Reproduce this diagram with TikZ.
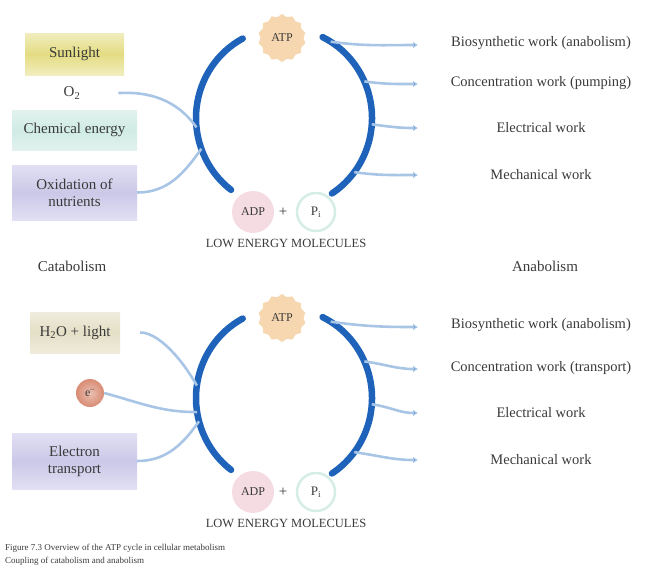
\documentclass[tikz,border=0pt]{standalone}
\usepackage{fontspec}
\setmainfont{Liberation Serif}
\usetikzlibrary{shapes.geometric,arrows.meta}

\definecolor{cycblue}{HTML}{1E63B9}
\definecolor{linkblue}{HTML}{A9C5E6}
\definecolor{tipblue}{HTML}{4A86C8}
\definecolor{txtgrey}{HTML}{3A3A3A}
\definecolor{sunyel}{HTML}{E3DC82}
\definecolor{sunyellt}{HTML}{F1EDBE}
\definecolor{chemgrn}{HTML}{D0EBE5}
\definecolor{chemgrnlt}{HTML}{E2F2EE}
\definecolor{oxpurp}{HTML}{CBC8E8}
\definecolor{oxpurplt}{HTML}{E2E0F3}
\definecolor{lightbg}{HTML}{E4DFC6}
\definecolor{lightbglt}{HTML}{EFECDD}
\definecolor{atporange}{HTML}{F6D7B0}
\definecolor{adppink}{HTML}{F5DCE2}
\definecolor{pigreen}{HTML}{D6EEE6}
\definecolor{redball}{HTML}{D98C74}

\begin{document}
\begin{tikzpicture}[x=1pt,y=1pt,
  cyc/.style={line width=6.5pt, draw=cycblue, line cap=round},
  link/.style={line width=2.6pt, draw=linkblue},
  linktip/.style={link, -{Latex[length=5pt,width=7pt,fill=tipblue]}},
  srcbox/.style={minimum width=125pt, align=center},
  atpstar/.style={star, star points=14, star point ratio=1.12, minimum size=48pt, fill=atporange, font=\fontsize{12}{14}\selectfont},
  adpball/.style={circle, minimum size=42pt, fill=adppink, font=\fontsize{12}{14}\selectfont},
  piball/.style={circle, minimum size=38pt, draw=pigreen, line width=2.5pt, fill=white, font=\fontsize{13}{14}\selectfont},
  worklabel/.style={font=\fontsize{14.5}{16}\selectfont},
  statelabel/.style={font=\fontsize{12.5}{14}\selectfont}]
\useasboundingbox (0,0) rectangle (647,-574);
\tikzstyle{every node}+=[inner sep=0pt, text=txtgrey, font=\fontsize{15}{17}\selectfont]

% upper cycle
\node [srcbox, minimum width=99pt, minimum height=42pt, top color=sunyellt, bottom color=sunyellt, middle color=sunyel] (sun) at (74.5,-54) {Sunlight};
\node (oxy1) at (72,-93) {O\textsubscript{2}};
\node [srcbox, minimum height=40pt, top color=chemgrnlt, bottom color=chemgrnlt, middle color=chemgrn] (chem) at (74.5,-130) {Chemical energy};
\node [srcbox, minimum height=55pt, top color=oxpurplt, bottom color=oxpurplt, middle color=oxpurp] (oxid1) at (74.5,-192.5) {Oxidation of\\nutrients};

\node [atpstar] (atp1) at (282,-38) {ATP};
\node [adpball] (adp1) at (253,-212) {ADP};
\node (plus1) at (283,-212) {+};
\node [piball] (pi1) at (316,-212) {P\textsubscript{i}};
\node [statelabel] (low1) at (286,-243) {LOW ENERGY MOLECULES};

\coordinate (ctr1) at (284,-118);
\draw [cyc] (ctr1) ++(233:88 and 90) arc (233:118:88 and 90);
\draw [cyc] (ctr1) ++(64:88 and 90) arc (64:-57:88 and 90);
\path (ctr1) ++(186:88 and 90) coordinate (in1a);
\path (ctr1) ++(200:88 and 90) coordinate (in1b);

\draw [link, shorten <=38pt] (oxy1.east) to[out=0,in=125] (in1a);
\draw [link] (oxid1.east) to[out=0,in=-125] (in1b);

\node [worklabel] (w1a) at (541,-43) {Biosynthetic work (anabolism)};
\node [worklabel] (w1b) at (541,-83) {Concentration work (pumping)};
\node [worklabel] (w1c) at (541,-128) {Electrical work};
\node [worklabel] (w1d) at (541,-175) {Mechanical work};
\foreach \ang/\yy/\nm in {58/45/a, 24/84/b, -4/128/c, -37/175/d} {
  \path (ctr1) ++(\ang:88 and 90) coordinate (out1\nm);
  \coordinate (end1\nm) at (418,-\yy);
  \draw [linktip] (out1\nm) to[out=-8,in=180] (end1\nm);
}

\node (cata) at (72,-266) {Catabolism};
\node (ana) at (545,-266) {Anabolism};

% lower cycle
\node [srcbox, minimum width=90pt, minimum height=41pt, top color=lightbglt, bottom color=lightbglt, middle color=lightbg] (light) at (75,-332.5) {H\textsubscript{2}O + light};
\node [circle, minimum size=28pt, inner color=redball!55, outer color=redball, font=\fontsize{12}{14}\selectfont] (elec) at (90,-393) {e\textsuperscript{--}};
\node [srcbox, minimum height=56pt, top color=oxpurplt, bottom color=oxpurplt, middle color=oxpurp] (oxid2) at (74.5,-461) {Electron\\transport};

\node [atpstar] (atp2) at (282,-318) {ATP};
\node [adpball] (adp2) at (253,-492) {ADP};
\node (plus2) at (283,-492) {+};
\node [piball] (pi2) at (316,-492) {P\textsubscript{i}};
\node [statelabel] (low2) at (286,-523) {LOW ENERGY MOLECULES};

\coordinate (ctr2) at (284,-398);
\draw [cyc] (ctr2) ++(233:88 and 90) arc (233:118:88 and 90);
\draw [cyc] (ctr2) ++(64:88 and 90) arc (64:-57:88 and 90);
\path (ctr2) ++(172:88 and 90) coordinate (in2a);
\path (ctr2) ++(189:88 and 90) coordinate (in2b);
\path (ctr2) ++(195:88 and 90) coordinate (in2c);

\draw [link, shorten <=20pt] (light.east) to[out=0,in=120] (in2a);
\draw [link] (elec.east) to[out=-15,in=180] (in2b);
\draw [link] (oxid2.east) to[out=0,in=-125] (in2c);

\node [worklabel] (w2a) at (541,-325) {Biosynthetic work (anabolism)};
\node [worklabel] (w2b) at (541,-368) {Concentration work (transport)};
\node [worklabel] (w2c) at (541,-413) {Electrical work};
\node [worklabel] (w2d) at (541,-460) {Mechanical work};
\foreach \ang/\yy/\nm in {58/327/a, 24/369/b, -4/413/c, -37/460/d} {
  \path (ctr2) ++(\ang:88 and 90) coordinate (out2\nm);
  \coordinate (end2\nm) at (418,-\yy);
  \draw [linktip] (out2\nm) to[out=-8,in=180] (end2\nm);
}

% caption
\node [anchor=west, font=\fontsize{9}{10}\selectfont] (cap1) at (5,-548) {Figure 7.3 Overview of the ATP cycle in cellular metabolism};
\node [anchor=west, font=\fontsize{9}{10}\selectfont] (cap2) at (5,-561) {Coupling of catabolism and anabolism};
\end{tikzpicture}
\end{document}
